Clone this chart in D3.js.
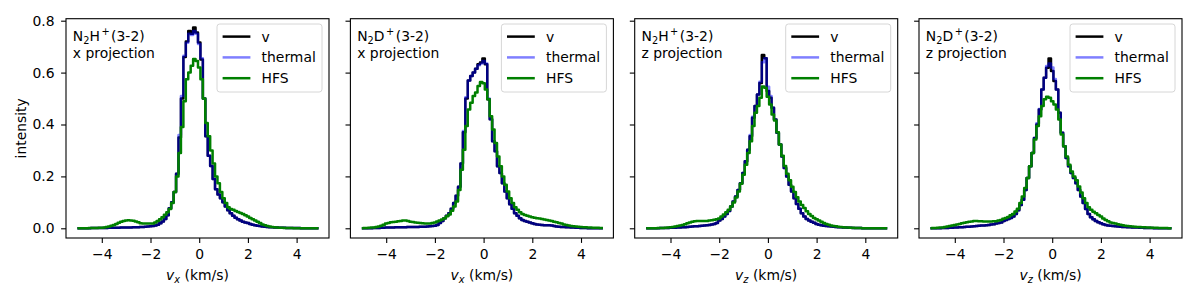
<!DOCTYPE html>
<html lang="en">
<head>
<meta charset="UTF-8">
<title>Line profiles</title>
<script src="https://d3js.org/d3.v7.min.js"></script>
<style>
  body { margin: 0; background: #fff; }
  svg { display: block; font-family: "DejaVu Sans", sans-serif; }
</style>
</head>
<body>
<div id="chart"></div>
<script>
// velocity bin centres (km/s)
const velocityBins = [
  -5.0,-4.9,-4.8,-4.7,-4.6,-4.5,-4.4,-4.3,-4.2,-4.1,
  -4.0,-3.9,-3.8,-3.7,-3.6,-3.5,-3.4,-3.3,-3.2,-3.1,
  -3.0,-2.9,-2.8,-2.7,-2.6,-2.5,-2.4,-2.3,-2.2,-2.1,
  -2.0,-1.9,-1.8,-1.7,-1.6,-1.5,-1.4,-1.3,-1.2,-1.1,
  -1.0,-0.9,-0.8,-0.7,-0.6,-0.5,-0.4,-0.3,-0.2,-0.1,
  0.0,0.1,0.2,0.3,0.4,0.5,0.6,0.7,0.8,0.9,
  1.0,1.1,1.2,1.3,1.4,1.5,1.6,1.7,1.8,1.9,
  2.0,2.1,2.2,2.3,2.4,2.5,2.6,2.7,2.8,2.9,
  3.0,3.1,3.2,3.3,3.4,3.5,3.6,3.7,3.8,3.9,
  4.0,4.1,4.2,4.3,4.4,4.5,4.6,4.7,4.8,4.9
];

// N2H+ (3-2), x projection
const n2hX_v = [
  0,0,0,0,0,0,0.001,0.001,0.001,0.001,
  0.001,0.001,0.001,0.002,0.002,0.002,0.002,0.002,0.003,0.003,
  0.003,0.003,0.003,0.004,0.004,0.004,0.005,0.005,0.006,0.007,
  0.008,0.009,0.011,0.014,0.019,0.026,0.036,0.050,0.077,0.100,
  0.140,0.210,0.350,0.500,0.660,0.720,0.760,0.750,0.774,0.755,
  0.716,0.650,0.500,0.355,0.280,0.240,0.190,0.150,0.130,0.116,
  0.100,0.084,0.070,0.058,0.048,0.041,0.035,0.030,0.025,0.022,
  0.020,0.017,0.014,0.012,0.010,0.009,0.007,0.006,0.005,0.004,
  0.004,0.003,0.003,0.002,0.002,0.002,0.001,0.001,0.001,0.001,
  0.001,0.001,0,0,0,0,0,0,0,0
];
const n2hX_thermal = [
  0,0,0,0,0,0,0.001,0.001,0.001,0.001,
  0.001,0.001,0.001,0.002,0.002,0.002,0.002,0.002,0.003,0.003,
  0.003,0.003,0.003,0.004,0.004,0.004,0.005,0.005,0.006,0.007,
  0.008,0.009,0.011,0.014,0.019,0.026,0.036,0.050,0.077,0.100,
  0.140,0.210,0.360,0.510,0.665,0.715,0.750,0.745,0.760,0.750,
  0.710,0.655,0.500,0.355,0.280,0.240,0.190,0.150,0.130,0.116,
  0.100,0.084,0.070,0.058,0.048,0.041,0.035,0.030,0.025,0.022,
  0.020,0.017,0.014,0.012,0.010,0.009,0.007,0.006,0.005,0.004,
  0.004,0.003,0.003,0.002,0.002,0.002,0.001,0.001,0.001,0.001,
  0.001,0.001,0,0,0,0,0,0,0,0
];
const n2hX_hfs = [
  0,0,0,0,0,0.001,0.001,0.001,0.001,0.002,
  0.002,0.003,0.005,0.007,0.010,0.013,0.017,0.021,0.025,0.028,
  0.030,0.031,0.030,0.029,0.026,0.023,0.019,0.018,0.018,0.018,
  0.018,0.018,0.022,0.028,0.035,0.043,0.052,0.062,0.074,0.097,
  0.140,0.200,0.290,0.390,0.490,0.574,0.600,0.626,0.652,0.645,
  0.620,0.574,0.500,0.406,0.355,0.300,0.250,0.200,0.174,0.140,
  0.116,0.097,0.081,0.074,0.071,0.067,0.063,0.059,0.055,0.050,
  0.045,0.040,0.035,0.030,0.025,0.020,0.015,0.012,0.009,0.007,
  0.005,0.004,0.003,0.002,0.002,0.001,0.001,0.001,0.001,0,
  0,0,0,0,0,0,0,0,0,0
];

// N2D+ (3-2), x projection
const n2dX_v = [
  0,0,0,0,0,0.001,0.001,0.001,0.002,0.002,
  0.003,0.003,0.003,0.003,0.004,0.004,0.004,0.004,0.004,0.005,
  0.005,0.005,0.005,0.005,0.006,0.006,0.006,0.007,0.008,0.009,
  0.010,0.013,0.020,0.028,0.039,0.048,0.058,0.075,0.097,0.125,
  0.160,0.250,0.370,0.500,0.570,0.587,0.600,0.615,0.632,0.639,
  0.654,0.632,0.497,0.420,0.335,0.297,0.239,0.213,0.174,0.142,
  0.116,0.093,0.075,0.058,0.048,0.039,0.032,0.028,0.025,0.022,
  0.019,0.017,0.015,0.014,0.013,0.012,0.012,0.012,0.011,0.009,
  0.007,0.006,0.005,0.005,0.004,0.004,0.003,0.003,0.002,0.002,
  0.001,0.001,0.001,0,0,0,0,0,0,0
];
const n2dX_thermal = [
  0,0,0,0,0,0.001,0.001,0.001,0.002,0.002,
  0.003,0.003,0.003,0.003,0.004,0.004,0.004,0.004,0.004,0.005,
  0.005,0.005,0.005,0.005,0.006,0.006,0.006,0.007,0.008,0.009,
  0.010,0.013,0.020,0.028,0.039,0.048,0.058,0.075,0.097,0.125,
  0.160,0.250,0.375,0.505,0.570,0.587,0.600,0.615,0.628,0.635,
  0.645,0.635,0.500,0.420,0.335,0.297,0.239,0.213,0.174,0.142,
  0.116,0.093,0.075,0.058,0.048,0.039,0.032,0.028,0.025,0.022,
  0.019,0.017,0.015,0.014,0.013,0.012,0.012,0.012,0.011,0.009,
  0.007,0.006,0.005,0.005,0.004,0.004,0.003,0.003,0.002,0.002,
  0.001,0.001,0.001,0,0,0,0,0,0,0
];
const n2dX_hfs = [
  0,0.001,0.001,0.002,0.003,0.003,0.005,0.007,0.010,0.014,
  0.018,0.020,0.023,0.024,0.025,0.027,0.028,0.030,0.030,0.028,
  0.025,0.024,0.022,0.021,0.020,0.019,0.018,0.018,0.018,0.020,
  0.022,0.026,0.030,0.034,0.039,0.046,0.053,0.068,0.084,0.103,
  0.148,0.226,0.303,0.394,0.458,0.484,0.510,0.523,0.548,0.564,
  0.559,0.535,0.497,0.432,0.381,0.329,0.277,0.239,0.200,0.168,
  0.142,0.116,0.097,0.081,0.071,0.062,0.055,0.051,0.048,0.045,
  0.043,0.041,0.039,0.038,0.036,0.034,0.032,0.030,0.028,0.025,
  0.023,0.020,0.018,0.015,0.013,0.011,0.009,0.008,0.007,0.006,
  0.005,0.004,0.004,0.003,0.003,0.002,0.002,0.002,0.001,0.001
];

// N2H+ (3-2), z projection
const n2hZ_v = [
  0,0,0,0,0,0,0.001,0.001,0.001,0.001,
  0.002,0.002,0.002,0.003,0.003,0.004,0.004,0.005,0.006,0.007,
  0.008,0.008,0.009,0.010,0.011,0.012,0.013,0.015,0.017,0.020,
  0.030,0.036,0.045,0.055,0.067,0.084,0.103,0.123,0.148,0.174,
  0.213,0.258,0.303,0.355,0.426,0.471,0.516,0.560,0.668,0.655,
  0.529,0.503,0.465,0.419,0.368,0.323,0.277,0.232,0.200,0.168,
  0.142,0.116,0.094,0.075,0.058,0.045,0.036,0.030,0.025,0.021,
  0.017,0.014,0.012,0.010,0.009,0.008,0.007,0.006,0.005,0.004,
  0.004,0.003,0.003,0.002,0.002,0.001,0.001,0.001,0.001,0,
  0,0,0,0,0,0,0,0,0,0
];
const n2hZ_thermal = [
  0,0,0,0,0,0,0.001,0.001,0.001,0.001,
  0.002,0.002,0.002,0.003,0.003,0.004,0.004,0.005,0.006,0.007,
  0.008,0.008,0.009,0.010,0.011,0.012,0.013,0.015,0.017,0.020,
  0.030,0.036,0.045,0.055,0.067,0.084,0.103,0.123,0.148,0.174,
  0.213,0.258,0.303,0.360,0.430,0.471,0.516,0.565,0.640,0.655,
  0.545,0.510,0.465,0.419,0.368,0.323,0.277,0.232,0.200,0.168,
  0.142,0.116,0.094,0.075,0.058,0.045,0.036,0.030,0.025,0.021,
  0.017,0.014,0.012,0.010,0.009,0.008,0.007,0.006,0.005,0.004,
  0.004,0.003,0.003,0.002,0.002,0.001,0.001,0.001,0.001,0,
  0,0,0,0,0,0,0,0,0,0
];
const n2hZ_hfs = [
  0,0,0,0,0,0.001,0.001,0.001,0.002,0.003,
  0.004,0.005,0.007,0.009,0.011,0.013,0.016,0.019,0.022,0.025,
  0.027,0.028,0.028,0.028,0.028,0.028,0.030,0.031,0.033,0.035,
  0.038,0.045,0.053,0.062,0.071,0.084,0.099,0.119,0.142,0.172,
  0.206,0.245,0.290,0.335,0.394,0.445,0.471,0.503,0.546,0.542,
  0.507,0.477,0.439,0.415,0.370,0.323,0.280,0.240,0.210,0.185,
  0.160,0.140,0.120,0.103,0.090,0.078,0.066,0.055,0.047,0.040,
  0.035,0.030,0.025,0.020,0.017,0.014,0.011,0.009,0.008,0.006,
  0.005,0.004,0.003,0.003,0.002,0.002,0.001,0.001,0.001,0,
  0,0,0,0,0,0,0,0,0,0
];

// N2D+ (3-2), z projection
const n2dZ_v = [
  0,0,0,0,0,0.001,0.001,0.001,0.002,0.002,
  0.003,0.003,0.004,0.004,0.005,0.006,0.006,0.007,0.008,0.009,
  0.010,0.011,0.011,0.012,0.013,0.015,0.016,0.018,0.020,0.022,
  0.028,0.032,0.036,0.040,0.045,0.055,0.070,0.090,0.110,0.148,
  0.194,0.239,0.290,0.348,0.400,0.458,0.535,0.580,0.619,0.654,
  0.606,0.568,0.535,0.445,0.368,0.316,0.271,0.239,0.213,0.194,
  0.174,0.148,0.123,0.097,0.074,0.055,0.043,0.035,0.028,0.023,
  0.019,0.016,0.013,0.011,0.010,0.009,0.008,0.007,0.006,0.005,
  0.005,0.004,0.004,0.003,0.003,0.003,0.002,0.002,0.001,0.001,
  0.001,0.001,0,0,0,0,0,0,0,0
];
const n2dZ_thermal = [
  0,0,0,0,0,0.001,0.001,0.001,0.002,0.002,
  0.003,0.003,0.004,0.004,0.005,0.006,0.006,0.007,0.008,0.009,
  0.010,0.011,0.011,0.012,0.013,0.015,0.016,0.018,0.020,0.022,
  0.028,0.032,0.036,0.040,0.045,0.055,0.070,0.090,0.110,0.148,
  0.194,0.239,0.290,0.348,0.405,0.460,0.535,0.580,0.625,0.635,
  0.620,0.575,0.535,0.445,0.368,0.316,0.271,0.239,0.213,0.194,
  0.174,0.148,0.123,0.097,0.074,0.055,0.043,0.035,0.028,0.023,
  0.019,0.016,0.013,0.011,0.010,0.009,0.008,0.007,0.006,0.005,
  0.005,0.004,0.004,0.003,0.003,0.003,0.002,0.002,0.001,0.001,
  0.001,0.001,0,0,0,0,0,0,0,0
];
const n2dZ_hfs = [
  0,0.001,0.001,0.002,0.003,0.003,0.005,0.007,0.009,0.011,
  0.013,0.015,0.017,0.019,0.021,0.023,0.025,0.026,0.028,0.028,
  0.027,0.027,0.026,0.026,0.026,0.026,0.027,0.027,0.030,0.032,
  0.037,0.040,0.044,0.050,0.055,0.065,0.075,0.097,0.123,0.155,
  0.194,0.239,0.290,0.342,0.394,0.432,0.471,0.497,0.507,0.503,
  0.490,0.477,0.458,0.419,0.361,0.316,0.277,0.245,0.219,0.200,
  0.185,0.161,0.138,0.116,0.097,0.081,0.071,0.064,0.058,0.051,
  0.045,0.038,0.032,0.027,0.022,0.020,0.018,0.016,0.014,0.012,
  0.010,0.009,0.008,0.007,0.006,0.005,0.005,0.004,0.004,0.003,
  0.003,0.002,0.002,0.002,0.001,0.001,0.001,0.001,0,0
];

const molecules = ["H", "D", "H", "D"];          // N2H+ or N2D+
const projections = ["x projection", "x projection", "z projection", "z projection"];
const velAxes = ["x", "x", "z", "z"];
const seriesLabels = ["v", "thermal", "HFS"];
const seriesColors = ["#000000", "rgba(0,0,255,0.5)", "#008000"];
const xTicks = [-4, -2, 0, 2, 4];
const yTicks = [0, 0.2, 0.4, 0.6, 0.8];

const panelSeries = [
  [n2hX_v, n2hX_thermal, n2hX_hfs],
  [n2dX_v, n2dX_thermal, n2dX_hfs],
  [n2hZ_v, n2hZ_thermal, n2hZ_hfs],
  [n2dZ_v, n2dZ_thermal, n2dZ_hfs]
];

const W = 1200, H = 300;
const axTop = 18.7, axBottom = 238, axW = 263;
const axH = axBottom - axTop;
const axLefts = [66, 350.4, 634.7, 919];
const fontSize = 13.9;
const lw = 2.5;

const svg = d3.select("#chart").append("svg")
    .attr("width", W)
    .attr("height", H);

svg.append("rect").attr("width", W).attr("height", H).attr("fill", "#fff");

const x = d3.scaleLinear().domain([-5.47, 5.33]).range([0, axW]);
const y = d3.scaleLinear().domain([-0.0374, 0.8077]).range([axH, 0]);

const line = d3.line()
    .x(d => x(d[0]))
    .y(d => y(d[1]))
    .curve(d3.curveStep);

svg.append("defs").append("clipPath").attr("id", "axclip")
    .append("rect").attr("width", axW).attr("height", axH);

panelSeries.forEach((series, p) => {
    const g = svg.append("g").attr("transform", `translate(${axLefts[p]},${axTop})`);

    // step profiles
    const plot = g.append("g").attr("clip-path", "url(#axclip)");
    series.forEach((vals, s) => {
        plot.append("path")
            .datum(d3.zip(velocityBins, vals))
            .attr("d", line)
            .attr("fill", "none")
            .attr("stroke", seriesColors[s])
            .attr("stroke-width", lw)
            .attr("stroke-linejoin", "round");
    });

    // axes
    const xAxis = g.append("g")
        .attr("transform", `translate(0,${axH})`)
        .call(d3.axisBottom(x).tickValues(xTicks).tickFormat(d3.format("d"))
            .tickSize(4.9).tickSizeOuter(0).tickPadding(6.4));
    const yAxis = g.append("g")
        .call(d3.axisLeft(y).tickValues(yTicks)
            .tickFormat(p === 0 ? d3.format(".1f") : () => "")
            .tickSize(4.9).tickSizeOuter(0).tickPadding(6.5));
    [xAxis, yAxis].forEach(a => {
        a.select(".domain").remove();
        a.selectAll(".tick line").attr("stroke", "#000").attr("stroke-width", 1.1);
        a.selectAll(".tick text")
            .attr("fill", "#000")
            .style("font-family", "DejaVu Sans")
            .style("font-size", fontSize + "px");
    });

    // frame
    g.append("rect")
        .attr("width", axW).attr("height", axH)
        .attr("fill", "none").attr("stroke", "#000").attr("stroke-width", 1.1);

    // label in upper left
    const lab = g.append("text")
        .attr("x", 6.8).attr("y", 22)
        .style("font-size", fontSize + "px");
    lab.append("tspan").text("N");
    lab.append("tspan").attr("dy", 3.2).style("font-size", "9.8px").text("2");
    lab.append("tspan").attr("dy", -3.2).text(molecules[p]);
    lab.append("tspan").attr("dx", 1.5).attr("dy", -5.5).style("font-size", "9.8px").text("+");
    lab.append("tspan").attr("dx", 1.5).attr("dy", 5.5).text("(3-2)");
    g.append("text")
        .attr("x", 6.8).attr("y", 39.6)
        .style("font-size", fontSize + "px")
        .text(projections[p]);

    // legend
    const legW = 105, legH = 68;
    const leg = g.append("g").attr("transform", `translate(${axW - 7 - legW},5.3)`);
    leg.append("rect")
        .attr("width", legW).attr("height", legH)
        .attr("rx", 2.8).attr("ry", 2.8)
        .attr("fill", "#fff").attr("fill-opacity", 0.8)
        .attr("stroke", "#d6d6d6").attr("stroke-width", 1);
    seriesLabels.forEach((name, s) => {
        const cy = 12.6 + s * 20.8;
        leg.append("line")
            .attr("x1", 5.6).attr("x2", 33.4)
            .attr("y1", cy).attr("y2", cy)
            .attr("stroke", seriesColors[s])
            .attr("stroke-width", lw);
        leg.append("text")
            .attr("x", 44.6).attr("y", cy).attr("dy", "0.36em")
            .style("font-size", fontSize + "px")
            .text(name);
    });

    // x label: v_x (km/s)
    const xl = g.append("text")
        .attr("x", axW / 2).attr("y", 280 - axTop)
        .attr("text-anchor", "middle")
        .style("font-size", fontSize + "px");
    xl.append("tspan").style("font-style", "italic").text("v");
    xl.append("tspan").attr("dy", 3).style("font-style", "italic").style("font-size", "9.8px").text(velAxes[p]);
    xl.append("tspan").attr("dy", -3).text(" (km/s)");
});

// y label
svg.append("text")
    .attr("transform", `translate(26,${(axTop + axBottom) / 2}) rotate(-90)`)
    .attr("text-anchor", "middle")
    .style("font-size", fontSize + "px")
    .text("intensity");
</script>
</body>
</html>
